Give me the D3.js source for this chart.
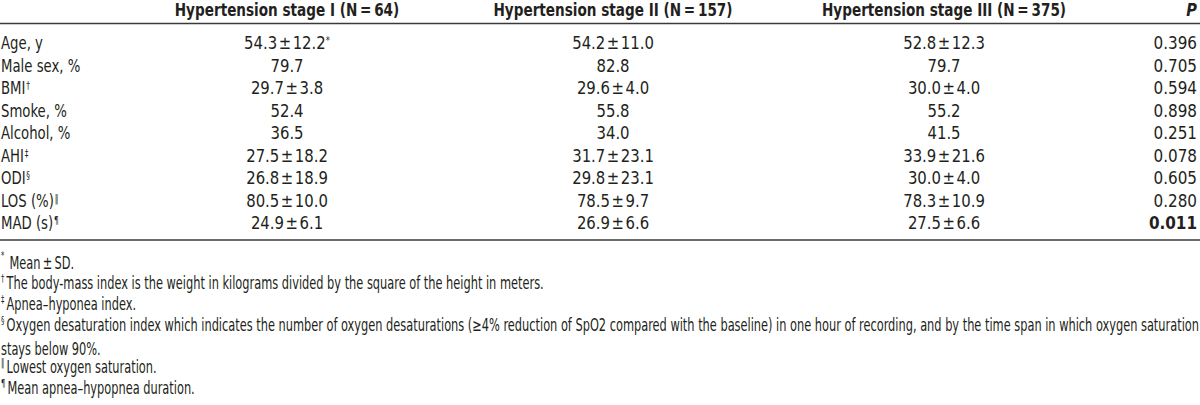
<!DOCTYPE html>
<html>
<head>
<meta charset="utf-8">
<style>
  body { margin: 0; background: #fff; }
  svg text { font-family: "DejaVu Sans Condensed", "DejaVu Sans", sans-serif; fill: #231f20; }
</style>
</head>
<body>
<div id="table"></div>
<script src="https://d3js.org/d3.v7.min.js"></script>
<script>
    // table content
    var headers = ["Hypertension stage I (N\u2009=\u200964)", "Hypertension stage II (N\u2009=\u2009157)", "Hypertension stage III (N\u2009=\u2009375)"];
    var rowLabels = ["Age, y", "Male sex, %", "BMI", "Smoke, %", "Alcohol, %", "AHI", "ODI", "LOS (%)", "MAD (s)"];
    var rowMarks = ["", "", "\u2020", "", "", "\u2021", "\u00a7", "\u2016", "\u00b6"];
    var stage1 = ["54.3\u200a\u00b1\u200a12.2", "79.7", "29.7\u200a\u00b1\u200a3.8", "52.4", "36.5", "27.5\u200a\u00b1\u200a18.2", "26.8\u200a\u00b1\u200a18.9", "80.5\u200a\u00b1\u200a10.0", "24.9\u200a\u00b1\u200a6.1"];
    var stage2 = ["54.2\u200a\u00b1\u200a11.0", "82.8", "29.6\u200a\u00b1\u200a4.0", "55.8", "34.0", "31.7\u200a\u00b1\u200a23.1", "29.8\u200a\u00b1\u200a23.1", "78.5\u200a\u00b1\u200a9.7", "26.9\u200a\u00b1\u200a6.6"];
    var stage3 = ["52.8\u200a\u00b1\u200a12.3", "79.7", "30.0\u200a\u00b1\u200a4.0", "55.2", "41.5", "33.9\u200a\u00b1\u200a21.6", "30.0\u200a\u00b1\u200a4.0", "78.3\u200a\u00b1\u200a10.9", "27.5\u200a\u00b1\u200a6.6"];
    var pValues = ["0.396", "0.705", "0.594", "0.898", "0.251", "0.078", "0.605", "0.280", "0.011"];
    var footMarks = ["*", "\u2020", "\u2021", "\u00a7", "", "\u2016", "\u00b6"];
    var footnotes = [
        "Mean\u2009\u00b1\u2009SD.",
        "The body-mass index is the weight in kilograms divided by the square of the height in meters.",
        "Apnea\u2013hyponea index.",
        "Oxygen desaturation index which indicates the number of oxygen desaturations (\u22654% reduction of SpO2 compared with the baseline) in one hour of recording, and by the time span in which oxygen saturation",
        "stays below 90%.",
        "Lowest oxygen saturation.",
        "Mean apnea\u2013hypopnea duration."
    ];

    var width = 1200, height = 405;

    var svg = d3.select("#table").append("svg")
        .attr("width", width)
        .attr("height", height);

    // rows and columns
    var y = d3.scalePoint()
        .domain(d3.range(rowLabels.length))
        .range([43, 223]);

    var yFoot = d3.scalePoint()
        .domain(d3.range(footnotes.length))
        .range([265, 391]);

    var colX = d3.scaleOrdinal()
        .domain([0, 1, 2])
        .range([287, 613, 944]);

    var fs = 18;

    // places a text at x,y and squeezes it horizontally (condensed look)
    function place(sel, fx, fy, sx) {
        sel.attr("transform", (d, i) => "translate(" + fx(d, i) + "," + fy(d, i) + ") scale(" + sx + ",1)");
    }

    // header
    var hed = svg.selectAll(".hed")
        .data(headers)
        .enter().append("text")
        .attr("class", "hed")
        .attr("dy", "0.35em")
        .attr("text-anchor", "middle")
        .style("font-weight", "bold")
        .style("font-size", fs + "px")
        .text(d => d);
    place(hed, (d, i) => colX(i), () => 10, 0.84);

    var ph = svg.append("text")
        .datum("P")
        .attr("dy", "0.35em")
        .attr("text-anchor", "end")
        .style("font-weight", "bold")
        .style("font-style", "italic")
        .style("font-size", fs + "px")
        .text("P");
    place(ph, () => 1197, () => 10, 0.9);

    // rules
    [23.5, 240].forEach(function(ly) {
        svg.append("line")
            .attr("x1", 0).attr("x2", width)
            .attr("y1", ly).attr("y2", ly)
            .attr("stroke", "#3a3a3a")
            .attr("stroke-width", 1.6);
    });

    // row labels
    var labels = svg.selectAll(".lab")
        .data(rowLabels)
        .enter().append("text")
        .attr("class", "lab")
        .attr("dy", "0.35em")
        .style("font-size", fs + "px")
        .text(d => d);
    labels.append("tspan")
        .attr("dy", "-0.5em")
        .attr("dx", 1)
        .style("font-size", "10px")
        .text((d, i) => rowMarks[i]);
    place(labels, () => 1, (d, i) => y(i), 0.82);

    // value columns
    [stage1, stage2, stage3].forEach(function(col, c) {
        var t = svg.selectAll(".c" + c)
            .data(col)
            .enter().append("text")
            .attr("class", "c" + c)
            .attr("dy", "0.35em")
            .attr("text-anchor", "middle")
            .style("font-size", fs + "px")
            .text(d => d);
        place(t, () => colX(c), (d, i) => y(i), 0.92);
        if (c === 0) {
            // Mean +/- SD marker on the first cell
            t.filter((d, i) => i === 0)
                .append("tspan")
                .attr("dy", "-0.55em")
                .style("font-size", "10px")
                .text("*");
        }
    });

    // P values
    var pv = svg.selectAll(".pv")
        .data(pValues)
        .enter().append("text")
        .attr("class", "pv")
        .attr("dy", "0.35em")
        .attr("text-anchor", "end")
        .style("font-size", fs + "px")
        .style("font-weight", d => (+d < 0.05 ? "bold" : "normal"))
        .text(d => d);
    place(pv, () => 1197, (d, i) => y(i), 0.94);

    // footnotes
    var foot = svg.selectAll(".foot")
        .data(footnotes)
        .enter().append("text")
        .attr("class", "foot")
        .attr("dy", "0.35em")
        .style("font-size", "17px");
    foot.append("tspan")
        .attr("dy", (d, i) => footMarks[i] === "*" ? "-0.6em" : "-0.4em")
        .style("font-size", "10px")
        .text((d, i) => footMarks[i]);
    foot.append("tspan")
        .attr("dy", (d, i) => footMarks[i] === "*" ? "0.6em" : (footMarks[i] ? "0.4em" : null))
        .attr("dx", (d, i) => footMarks[i] === "*" ? 7 : (footMarks[i] ? 3 : 0))
        .text(d => d);

    // squeeze footnotes so the longest one runs the full width
    var longest = d3.max(foot.nodes(), n => n.getComputedTextLength());
    place(foot, () => 1, (d, i) => yFoot(i), (width - 3) / longest);
</script>
</body>
</html>
